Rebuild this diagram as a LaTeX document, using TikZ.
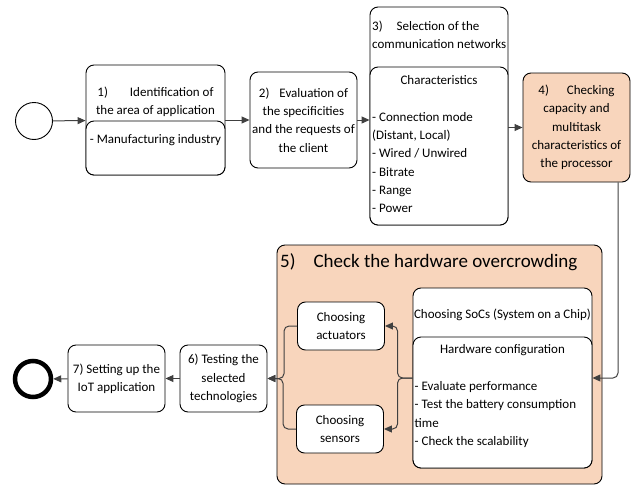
\documentclass[tikz,border=0pt]{standalone}
\usepackage{fontspec}
\setmainfont{Carlito}
\usepackage{tikz}
\usetikzlibrary{shapes,arrows.meta,positioning}
\definecolor{peach}{RGB}{248,213,188}
\definecolor{linegray}{RGB}{64,64,64}

\begin{document}
\begin{tikzpicture}[x=1pt, y=-1pt,
    every node/.style={font=\fontsize{13}{18.3}\selectfont},
    box/.style={rectangle, draw, rounded corners=8pt, line width=0.9pt, align=center, inner sep=2pt},
    part/.style={box, fill=white},
    hot/.style={box, fill=peach},
    txt/.style={align=left, inner sep=0pt},
    arrow/.style={-{Triangle[length=8pt,width=7pt]}, line width=1pt, draw=linegray, rounded corners=5pt}
]
    \useasboundingbox (0,0) rectangle (643,490);

    % Start
    \node[circle, draw, line width=0.9pt, minimum size=37pt] (start) at (34,121) {};

    % 1) Area of application
    \node[box, minimum width=139pt, minimum height=110pt] (area) at (155.5,120) {};
    \node[part, minimum width=139pt, minimum height=54pt] (areadom) at (155.5,148) {};
    \node[txt, align=center] (areatitle) at (155.5,102) {1)\hspace{22pt}Identification of\hspace{14pt}\\the area of application};
    \node[txt] (areatext) at (155.5,140) {- Manufacturing industry};

    % 2) Client
    \node[box, minimum width=107pt, minimum height=96pt] (eval) at (303.5,120)
        {2)\hspace{10pt}Evaluation of\hspace{10pt}\\the specificities\\and the requests of\\the client};

    % 3) Networks
    \node[box, minimum width=138pt, minimum height=218pt] (net) at (439,116) {};
    \node[part, minimum width=138pt, minimum height=158pt] (netchar) at (439,146) {};
    \node[txt, anchor=west] (nettitle) at (372,35) {3)\hspace{14pt}Selection of the\\communication networks};
    \node[txt] (netcharttl) at (439,80) {Characteristics};
    \node[txt, anchor=west] (netlist) at (372,162.5)
        {- Connection mode\\(Distant, Local)\\- Wired / Unwired\\- Bitrate\\- Range\\- Power};

    % 4) Processor
    \node[hot, minimum width=107pt, minimum height=109pt] (cpu) at (576.5,127.5)
        {4)\hspace{18pt}Checking\hspace{20pt}\\capacity and\\multitask\\characteristics of\\the processor};

    % 5) Hardware
    \node[hot, minimum width=325pt, minimum height=239pt] (hwbox) at (439.5,364.5) {};
    \node[txt, anchor=west, font=\fontsize{19}{22}\selectfont] (hwtitle) at (280,262)
        {5)\hspace{18pt}Check the hardware overcrowding};
    \node[box, fill=white, minimum width=179pt, minimum height=180pt] (soc) at (502.5,378) {};
    \node[part, minimum width=179pt, minimum height=131pt] (hw) at (502.5,402.5) {};
    \node[txt] (soctitle) at (502.5,315) {Choosing SoCs (System on a Chip)};
    \node[txt] (hwttl) at (502.5,350) {Hardware configuration};
    \node[txt, anchor=west] (hwlist) at (414.5,414.5)
        {- Evaluate performance\\- Test the battery consumption\\time\\- Check the scalability};
    \node[part, minimum width=87pt, minimum height=48pt] (act) at (341,326) {Choosing\\actuators};
    \node[part, minimum width=87pt, minimum height=48pt] (sen) at (340,429) {Choosing\\sensors};

    % 6) and 7)
    \node[box, minimum width=87pt, minimum height=67pt] (test) at (223.5,378.5) {6) Testing the\\selected\\technologies};
    \node[box, minimum width=97pt, minimum height=67pt] (iot) at (116.5,378.5) {7) Setting up the\\IoT application};

    % End
    \node[circle, draw, line width=4.5pt, minimum size=36pt] (end) at (33,379) {};

    % Arrows
    \draw[arrow] (start) -- (area);
    \draw[arrow] (area) -- (eval);
    \draw[arrow] (eval) -- (eval -| net.west);
    \draw[arrow] (cpu.west -| net.east) -- (cpu);
    \draw[arrow] ([xshift=41.5pt]cpu.south) |- (soc);
    \draw[arrow] (soc.west) -- ++(-15,0) |- (act);
    \draw[arrow] (soc.west) -- ++(-15,0) |- (sen);
    \draw[arrow] (act.west) -- ++(-13,0) |- (test);
    \draw[arrow] (sen.west) -- ++(-13,0) |- (test);
    \draw[arrow] (test) -- (iot);
    \draw[arrow] (iot) -- (end);
\end{tikzpicture}
\end{document}
